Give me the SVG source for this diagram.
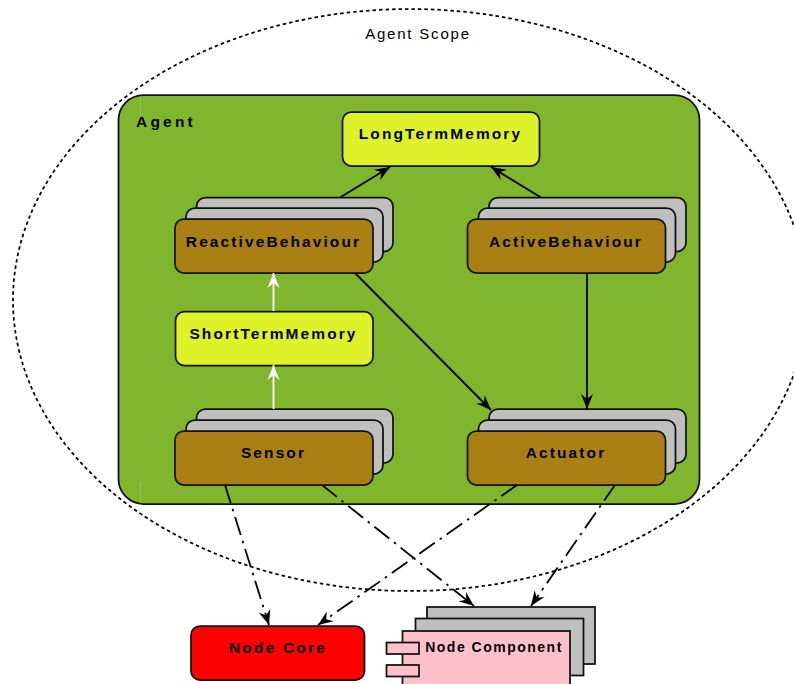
<svg xmlns="http://www.w3.org/2000/svg" width="794" height="684" viewBox="0 0 794 684">
<style>
text{font-family:"Liberation Sans",Arial,sans-serif;font-weight:bold;font-size:15.500px;letter-spacing:2.100px;text-anchor:middle;fill:#000}
.b{stroke:#111;stroke-width:1.75}
.grey{fill:#bfbfbf}
.brown{fill:#aa8015}
.yellow{fill:#dff229}
.pink{fill:#ffc0cb}
.c{fill:none;stroke:#000;stroke-width:1.8}
.dd{stroke-dasharray:19 6 2.500 6}
.art{stroke:#a5cf6a;stroke-width:.6}
</style>
<defs>
<marker id="ab" markerUnits="userSpaceOnUse" markerWidth="18" markerHeight="16" refX="15" refY="7" orient="auto"><path d="M0 1 L15 7 L0 13 L5 7Z" fill="#000"/></marker>
<marker id="aw" markerUnits="userSpaceOnUse" markerWidth="18" markerHeight="16" refX="15" refY="7" orient="auto"><path d="M0 1 L15 7 L0 13 L5 7Z" fill="#fff"/></marker>
</defs>
<g id="agent-scope">
<ellipse cx="410" cy="300" rx="397" ry="291" fill="none" stroke="#000" stroke-width="1.75" stroke-dasharray="3.500 3"/>
<text x="418" y="39" style="font-weight:normal;font-size:15px;letter-spacing:1.800px">Agent Scope</text>
</g>
<g id="agent">
<rect class="b" x="118.500" y="95" width="581" height="409" rx="25" fill="#80b62d"/>
<path class="art" d="M140.500 96V118M140.500 481V503"/>
<text x="166" y="127" style="letter-spacing:3.200px">Agent</text>
</g>
<g id="long-term-memory">
<rect class="b yellow" x="342.500" y="112" width="197" height="54" rx="9"/>
<text x="440.500" y="139">LongTermMemory</text>
</g>
<g id="reactive-behaviour">
<rect class="b grey" x="196.500" y="197.500" width="196.500" height="54" rx="9"/>
<rect class="b grey" x="186" y="208" width="197" height="54" rx="9"/>
<rect class="b brown" x="175" y="219" width="198" height="54" rx="9"/>
<text x="273.500" y="247">ReactiveBehaviour</text>
</g>
<g id="active-behaviour">
<rect class="b grey" x="489" y="197.500" width="197" height="54" rx="9"/>
<rect class="b grey" x="478.500" y="208" width="197" height="54" rx="9"/>
<rect class="b brown" x="467.500" y="219" width="198" height="54" rx="9"/>
<text x="566" y="247">ActiveBehaviour</text>
</g>
<g id="short-term-memory">
<rect class="b yellow" x="175.500" y="311.500" width="197.500" height="54" rx="9"/>
<text x="273.500" y="339">ShortTermMemory</text>
</g>
<g id="sensor">
<rect class="b grey" x="196.500" y="409" width="196.500" height="54" rx="9"/>
<rect class="b grey" x="186" y="420" width="197" height="54" rx="9"/>
<rect class="b brown" x="175" y="431" width="198" height="54" rx="9"/>
<text x="273.500" y="458">Sensor</text>
</g>
<g id="actuator">
<rect class="b grey" x="489" y="409" width="197" height="54" rx="9"/>
<rect class="b grey" x="478.500" y="420" width="197" height="54" rx="9"/>
<rect class="b brown" x="467.500" y="431" width="198" height="54" rx="9"/>
<text x="566" y="458">Actuator</text>
</g>
<g id="node-core">
<rect class="b" x="191" y="626" width="173.500" height="54" rx="9" fill="#f00"/>
<text x="278" y="653" style="letter-spacing:2.200px">Node Core</text>
</g>
<g id="node-component">
<rect class="b grey" x="427" y="607" width="168" height="57"/>
<rect class="b grey" x="415.500" y="618.500" width="168" height="57"/>
<rect class="b pink" x="402.500" y="631" width="167.500" height="60"/>
<rect class="b pink" x="386.500" y="642.500" width="32.500" height="11.500"/>
<rect class="b pink" x="386.500" y="665" width="32.500" height="11.500"/>
<text x="494" y="652" style="font-size:14px;letter-spacing:1.500px">Node Component</text>
</g>
<g id="connectors">
<path class="c" marker-end="url(#ab)" d="M340 197.500L390 167"/>
<path class="c" marker-end="url(#ab)" d="M541 197.500L491 167"/>
<path class="c" marker-end="url(#ab)" d="M355 273L491 410"/>
<path class="c" marker-end="url(#ab)" d="M587 273V409"/>
<path class="c" style="stroke:#fff" marker-end="url(#aw)" d="M273.500 311V273"/>
<path class="c" style="stroke:#fff" marker-end="url(#aw)" d="M273.500 409V365"/>
<path class="c dd" marker-end="url(#ab)" d="M225 485L269 625"/>
<path class="c dd" marker-end="url(#ab)" d="M322 485L474 606"/>
<path class="c dd" marker-end="url(#ab)" d="M517 485L318 625"/>
<path class="c dd" marker-end="url(#ab)" d="M615 485L531 606"/>
</g>
</svg>
